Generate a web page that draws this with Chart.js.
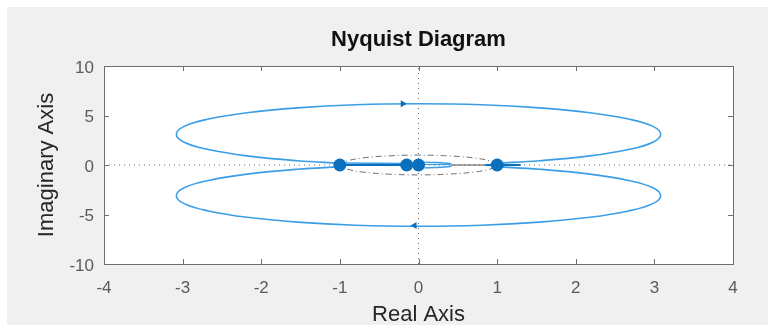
<!DOCTYPE html>
<html>
<head>
<meta charset="utf-8">
<script src="https://cdn.jsdelivr.net/npm/chart.js@4.4.1/dist/chart.umd.min.js"></script>
<style>
  html, body { margin: 0; padding: 0; background: #ffffff; }
  #wrap { width: 768px; height: 325px; }
</style>
</head>
<body>
<div id="wrap"><canvas id="nyq" width="768" height="325"></canvas></div>
<script>
// Nyquist trace, upper branch (positive frequencies), Re / Im pairs
const upperRe = [-1.00, -1.54, -2.18, -2.67, -2.98, -3.08, -2.98, -2.67, -2.18, -1.54, -0.80, 0.00, 0.80, 1.54, 2.18, 2.67, 2.98, 3.08, 2.98, 2.67, 2.18, 1.54, 1.00];
const upperIm = [0.19, 0.43, 0.92, 1.56, 2.30, 3.10, 3.90, 4.64, 5.28, 5.77, 6.08, 6.18, 6.08, 5.77, 5.28, 4.64, 3.90, 3.10, 2.30, 1.56, 0.92, 0.43, 0.19];
// lower branch (negative frequencies, mirror image)
const lowerRe = [1.00, 1.54, 2.18, 2.67, 2.98, 3.08, 2.98, 2.67, 2.18, 1.54, 0.80, 0.00, -0.80, -1.54, -2.18, -2.67, -2.98, -3.08, -2.98, -2.67, -2.18, -1.54, -1.00];
const lowerIm = [-0.19, -0.43, -0.92, -1.56, -2.30, -3.10, -3.90, -4.64, -5.28, -5.77, -6.08, -6.18, -6.08, -5.77, -5.28, -4.64, -3.90, -3.10, -2.30, -1.56, -0.92, -0.43, -0.19];
// traces hugging the real axis near the origin
const leftRe = [-1.00, -0.15];
const leftUpIm = [0.20, 0.15];
const leftAxisIm = [0.00, 0.00];
const hookRe = [0.00, 0.20, 0.40, 0.42, 0.40, 0.20, 0.00];
const hookIm = [0.30, 0.26, 0.15, 0.00, -0.15, -0.26, -0.30];
const hookMidRe = [0.00, 0.40];
const hookMidIm = [0.05, 0.05];
const grayRe = [0.42, 0.85];
const grayIm = [0.00, 0.00];
const rightRe = [0.85, 1.30];
const rightIm = [0.00, 0.00];
// unit circle (dash-dot)
const circleRe = [1.00, 0.92, 0.71, 0.38, 0.00, -0.38, -0.71, -0.92, -1.00, -0.92, -0.71, -0.38, 0.00, 0.38, 0.71, 0.92, 1.00];
const circleIm = [0.00, 0.38, 0.71, 0.92, 1.00, 0.92, 0.71, 0.38, 0.00, -0.38, -0.71, -0.92, -1.00, -0.92, -0.71, -0.38, 0.00];
// marked points on the real axis
const markRe = [-1.00, -0.15, 0.00, 1.00];
const markIm = [0.00, 0.00, 0.00, 0.00];
// direction arrows
const arrowRe = [-0.20, -0.05];
const arrowIm = [6.18, -6.12];
const arrowRot = [90, -90];
// zero reference lines
const hAxisRe = [-4, 4];
const hAxisIm = [0, 0];
const vAxisRe = [0, 0];
const vAxisIm = [-10, 10];
// axis ticks
const xTicks = [-4, -3, -2, -1, 0, 1, 2, 3, 4];
const yTicks = [-10, -5, 0, 5, 10];

const titleText = 'Nyquist Diagram';
const xTitle = 'Real Axis';
const yTitle = 'Imaginary Axis';

const zip = (xs, ys) => xs.map((x, i) => ({ x, y: ys[i] }));

const traceBlue = '#3a9ee6';
const markBlue = '#0a6fbd';
const FONT = "'Liberation Sans', Arial, Helvetica, sans-serif";

function lineSet(xs, ys, color, width, extra) {
  return Object.assign({
    type: 'line',
    data: zip(xs, ys),
    borderColor: color,
    backgroundColor: color,
    borderWidth: width,
    pointRadius: 0,
    showLine: true,
    fill: false,
    tension: 0
  }, extra || {});
}

const datasets = [
  lineSet(hAxisRe, hAxisIm, '#6a6a6a', 1, { borderDash: [1, 4], order: 10 }),
  lineSet(vAxisRe, vAxisIm, '#6a6a6a', 1, { borderDash: [1, 4], order: 10 }),
  lineSet(circleRe, circleIm, '#707070', 1, { borderDash: [6, 3, 1, 3], tension: 0.4, order: 9 }),
  lineSet(upperRe, upperIm, traceBlue, 1.6, { tension: 0.4, order: 5 }),
  lineSet(lowerRe, lowerIm, traceBlue, 1.6, { tension: 0.4, order: 5 }),
  lineSet(leftRe, leftUpIm, traceBlue, 1.6, { order: 5 }),
  lineSet(leftRe, leftAxisIm, markBlue, 2.2, { order: 4 }),
  lineSet(hookRe, hookIm, traceBlue, 1.4, { tension: 0.3, order: 5 }),
  lineSet(hookMidRe, hookMidIm, traceBlue, 1.2, { order: 5 }),
  lineSet(grayRe, grayIm, '#505050', 1.2, { order: 6 }),
  lineSet(rightRe, rightIm, markBlue, 2, { order: 4 }),
  {
    type: 'scatter',
    data: zip(markRe, markIm),
    pointRadius: 6.5,
    pointBackgroundColor: markBlue,
    pointBorderColor: markBlue,
    pointBorderWidth: 0,
    showLine: false,
    order: 1
  },
  {
    type: 'scatter',
    data: zip(arrowRe, arrowIm),
    pointStyle: 'triangle',
    pointRotation: arrowRot,
    pointRadius: 4,
    pointBackgroundColor: markBlue,
    pointBorderColor: markBlue,
    pointBorderWidth: 0,
    showLine: false,
    order: 1
  }
];

// figure background, white axes box, frame and inward tick marks
const framePlugin = {
  id: 'frame',
  beforeDraw(chart) {
    const { ctx, chartArea: a } = chart;
    ctx.save();
    ctx.fillStyle = '#ffffff';
    ctx.fillRect(0, 0, chart.width, chart.height);
    ctx.fillStyle = '#f0f0f0';
    ctx.fillRect(7, 7, chart.width - 7, chart.height - 7);
    ctx.fillStyle = '#ffffff';
    ctx.fillRect(a.left, a.top, a.right - a.left, a.bottom - a.top);
    ctx.restore();
  },
  afterDatasetsDraw(chart) {
    const { ctx, chartArea: a, scales } = chart;
    const tl = 5;
    ctx.save();
    ctx.strokeStyle = '#6e6e6e';
    ctx.lineWidth = 1;
    ctx.beginPath();
    xTicks.forEach(v => {
      const px = Math.round(scales.x.getPixelForValue(v)) + 0.5;
      ctx.moveTo(px, a.bottom); ctx.lineTo(px, a.bottom - tl);
      ctx.moveTo(px, a.top); ctx.lineTo(px, a.top + tl);
    });
    yTicks.forEach(v => {
      const py = Math.round(scales.y.getPixelForValue(v)) + 0.5;
      ctx.moveTo(a.left, py); ctx.lineTo(a.left + tl, py);
      ctx.moveTo(a.right, py); ctx.lineTo(a.right - tl, py);
    });
    ctx.stroke();
    ctx.strokeRect(Math.round(a.left) + 0.5, Math.round(a.top) + 0.5,
      Math.round(a.right - a.left), Math.round(a.bottom - a.top));
    ctx.restore();
  }
};

new Chart(document.getElementById('nyq'), {
  type: 'scatter',
  data: { datasets },
  plugins: [framePlugin],
  options: {
    responsive: false,
    animation: false,
    events: [],
    layout: { padding: { left: 0, right: 35, top: 0, bottom: 0 } },
    plugins: {
      legend: { display: false },
      tooltip: { enabled: false },
      title: {
        display: true,
        text: titleText,
        fullSize: false,
        color: '#111111',
        font: { family: FONT, size: 22, weight: 'bold', lineHeight: 1.2 },
        padding: { top: 26.4, bottom: 13.2 }
      }
    },
    scales: {
      x: {
        type: 'linear',
        min: -4, max: 4,
        afterBuildTicks(s) { s.ticks = xTicks.map(v => ({ value: v })); },
        afterFit(s) { s.height = 61; },
        grid: { display: false, drawTicks: false },
        border: { display: false },
        ticks: { color: '#5a5a5a', padding: 14, font: { family: FONT, size: 17 } },
        title: { display: true, text: xTitle, color: '#262626',
          font: { family: FONT, size: 22, lineHeight: 1.2 }, padding: { top: 0, bottom: -3.5 } }
      },
      y: {
        type: 'linear',
        min: -10, max: 10,
        afterBuildTicks(s) { s.ticks = yTicks.map(v => ({ value: v })); },
        afterFit(s) { s.width = 104; },
        grid: { display: false, drawTicks: false },
        border: { display: false },
        ticks: { color: '#5a5a5a', padding: 10, labelOffset: 2, font: { family: FONT, size: 17 } },
        title: { display: true, text: yTitle, color: '#262626',
          font: { family: FONT, size: 22, lineHeight: 1.2 }, padding: { top: 34, bottom: 0 } }
      }
    }
  }
});
</script>
</body>
</html>
